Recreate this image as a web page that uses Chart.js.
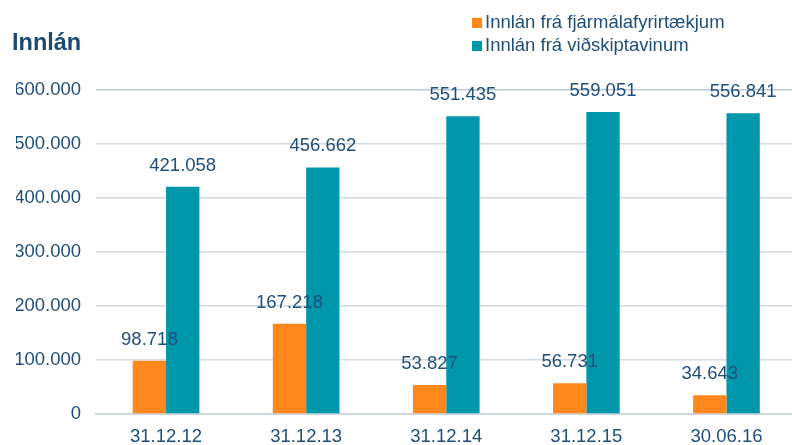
<!DOCTYPE html>
<html>
<head>
<meta charset="utf-8">
<script src="https://cdn.jsdelivr.net/npm/chart.js@4.4.1/dist/chart.umd.min.js"></script>
<style>
  html, body { margin: 0; padding: 0; background: #fff; overflow: hidden; width: 792px; height: 445px; }
  #wrap { position: absolute; left: 0; top: 0; width: 800px; height: 450px; }
  #title { position: absolute; left: 12px; top: 29px; font: bold 23.5px "Liberation Sans", Arial, sans-serif; color: #1B4A72; }
  #legend { position: absolute; left: 472px; top: 10px; font: 18.5px "Liberation Sans", Arial, sans-serif; color: #1F4E79; }
  #legend div { height: 23px; line-height: 23px; white-space: nowrap; }
  #legend span { display: inline-block; width: 10px; height: 10px; margin-right: 3px; vertical-align: 0px; }
</style>
</head>
<body>
<div id="wrap"><canvas id="innlanGraph"></canvas></div>
<div id="title">Innlán</div>
<div id="legend"></div>
<script>
// Innlán data
const labels = ['31.12.12', '31.12.13', '31.12.14', '31.12.15', '30.06.16'];
const fjarmalaData = [98718, 167218, 53827, 56731, 34643];
const vidskiptaData = [421058, 456662, 551435, 559051, 556841];
const seriesNames = ['Innlán frá fjármálafyrirtækjum', 'Innlán frá viðskiptavinum'];
const seriesColors = ['#FF871C', '#0097AB'];

const fmt = v => v.toLocaleString('de-DE');
const textColor = '#1F4E79';

// values above bars
const barLabels = {
  id: 'barLabels',
  afterDatasetsDraw(chart) {
    const ctx = chart.ctx;
    ctx.save();
    ctx.font = '18.5px "Liberation Sans", Arial, sans-serif';
    ctx.fillStyle = textColor;
    ctx.textAlign = 'center';
    ctx.textBaseline = 'middle';
    chart.data.datasets.forEach((ds, i) => {
      chart.getDatasetMeta(i).data.forEach((bar, j) => {
        ctx.fillText(fmt(ds.data[j]), bar.x, bar.y - 21);
      });
    });
    ctx.restore();
  }
};

const ctx1 = document.getElementById('innlanGraph').getContext('2d');
const chart = new Chart(ctx1, {
  type: 'bar',
  data: {
    labels: labels,
    datasets: [{
      label: seriesNames[0],
      data: fjarmalaData,
      backgroundColor: seriesColors[0]
    }, {
      label: seriesNames[1],
      data: vidskiptaData,
      backgroundColor: seriesColors[1]
    }]
  },
  options: {
    responsive: true,
    maintainAspectRatio: false,
    animation: false,
    datasets: { bar: { categoryPercentage: 0.476, barPercentage: 1 } },
    layout: { padding: { top: 90, left: 16, right: 3.5, bottom: 4 } },
    plugins: { legend: { display: false }, tooltip: { enabled: false } },
    scales: {
      x: {
        grid: { display: false, drawTicks: false },
        border: { display: true, color: '#CDD5DD', width: 2 },
        ticks: { color: textColor, padding: 14, maxRotation: 0, font: { size: 18.5, family: '"Liberation Sans", Arial, sans-serif', lineHeight: 1 } },
        afterFit: s => { s.height = 32; }
      },
      y: {
        min: 0,
        max: 600000,
        grid: {
          drawTicks: false,
          color: ctx => ctx.tick && ctx.tick.value === 600000 ? '#B9C9DC' : '#D3D9E0',
          lineWidth: 1.5
        },
        border: { display: false },
        ticks: {
          stepSize: 100000,
          padding: 15,
          color: textColor,
          font: { size: 18.5, family: '"Liberation Sans", Arial, sans-serif' },
          callback: v => fmt(v)
        },
        afterFit: s => { s.width = 80; }
      }
    }
  },
  plugins: [barLabels]
});

// legend
const legendBox = document.getElementById('legend');
chart.data.datasets.forEach(ds => {
  const row = document.createElement('div');
  const sw = document.createElement('span');
  sw.style.background = ds.backgroundColor;
  row.appendChild(sw);
  row.appendChild(document.createTextNode(ds.label));
  legendBox.appendChild(row);
});
</script>
</body>
</html>
